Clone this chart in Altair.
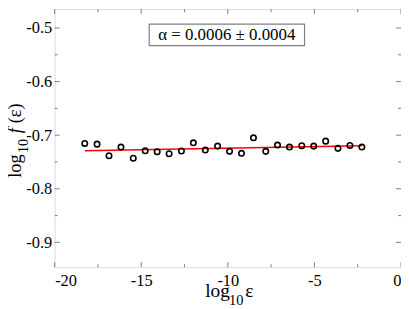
import altair as alt
import pandas as pd

# ---- data ----
log_eps = [-18.26, -17.55, -16.86, -16.17, -15.46, -14.77, -14.08, -13.39,
           -12.68, -11.99, -11.30, -10.59, -9.90, -9.21, -8.52, -7.81,
           -7.13, -6.44, -5.73, -5.04, -4.35, -3.64, -2.95, -2.26]
log_f = [-0.7154, -0.7167, -0.7383, -0.7222, -0.7431, -0.7290, -0.7309, -0.7346,
         -0.7296, -0.7143, -0.7278, -0.7204, -0.7302, -0.7339, -0.7050, -0.7302,
         -0.7185, -0.7222, -0.7198, -0.7204, -0.7111, -0.7246, -0.7191, -0.7222]
fit_x = [-18.26, -2.26]
fit_y = [-0.7290, -0.7196]
annotation = "α = 0.0006 ± 0.0004"

x_major = [-20, -15, -10, -5, 0]
x_minor = [-17.5, -12.5, -7.5, -2.5]
y_major = [-0.9, -0.8, -0.7, -0.6, -0.5]
y_minor = [-0.85, -0.75, -0.65, -0.55]

X_DOMAIN = [-20, 0]
Y_DOMAIN = [-0.9463, -0.4648]
W, H = 349, 260
FONT = "Liberation Serif, Times New Roman, serif"
GREY = "#808080"

xs = alt.Scale(domain=X_DOMAIN, nice=False, zero=False)
ys = alt.Scale(domain=Y_DOMAIN, nice=False, zero=False)

pts = pd.DataFrame({"x": log_eps, "y": log_f})
fit = pd.DataFrame({"x": fit_x, "y": fit_y})

base_axis_x = alt.Axis(values=x_major, labelExpr="'' + datum.value", ticks=False,
                       grid=False, domain=False, labelFont=FONT, labelFontSize=16.5,
                       labelColor="black", labelPadding=5, title=None)
base_axis_y = alt.Axis(values=y_major, labelExpr="'' + datum.value", ticks=False,
                       grid=False, domain=False, labelFont=FONT, labelFontSize=16.5,
                       labelColor="black", labelPadding=3, title=None)

points = alt.Chart(pts).mark_point(
    shape="circle", filled=False, color="black", size=30, strokeWidth=1.6, opacity=1
).encode(
    x=alt.X("x:Q", scale=xs, axis=base_axis_x),
    y=alt.Y("y:Q", scale=ys, axis=base_axis_y),
)

line = alt.Chart(fit).mark_line(color="#ff0000", strokeWidth=1.4).encode(
    x=alt.X("x:Q", scale=xs), y=alt.Y("y:Q", scale=ys)
)

# inward ticks on all four sides
def xticks(vals, length):
    df = pd.DataFrame({"v": vals})
    bottom = alt.Chart(df).mark_rule(color=GREY, strokeWidth=1).encode(
        x=alt.X("v:Q", scale=xs), y=alt.value(H - length), y2=alt.value(H))
    top = alt.Chart(df).mark_rule(color=GREY, strokeWidth=1).encode(
        x=alt.X("v:Q", scale=xs), y=alt.value(0), y2=alt.value(length))
    return [bottom, top]

def yticks(vals, length):
    df = pd.DataFrame({"v": vals})
    left = alt.Chart(df).mark_rule(color=GREY, strokeWidth=1).encode(
        y=alt.Y("v:Q", scale=ys), x=alt.value(0), x2=alt.value(length))
    right = alt.Chart(df).mark_rule(color=GREY, strokeWidth=1).encode(
        y=alt.Y("v:Q", scale=ys), x=alt.value(W - length), x2=alt.value(W))
    return [left, right]

ticks = xticks(x_major, 5) + xticks(x_minor, 3) + yticks(y_major, 5) + yticks(y_minor, 3)

# annotation box
box_df = pd.DataFrame({"x": [-14.54], "x2": [-5.57], "y": [-0.4926], "y2": [-0.5328],
                       "tx": [-10.06], "ty": [-0.5130], "t": [annotation]})
box = alt.Chart(box_df).mark_rect(fill="white", stroke=GREY, strokeWidth=1.2).encode(
    x=alt.X("x:Q", scale=xs), x2="x2", y=alt.Y("y:Q", scale=ys), y2="y2")
box_text = alt.Chart(box_df).mark_text(font=FONT, fontSize=17, color="black",
                                       align="center", baseline="middle").encode(
    x=alt.X("tx:Q", scale=xs), y=alt.Y("ty:Q", scale=ys), text="t:N")

# axis titles built from pieces (subscripts)
def piece(text, x, y, size, angle=0, style="normal"):
    kw = dict(font=FONT, fontSize=size, color="black", align="left",
              baseline="alphabetic", text=text, fontStyle=style)
    if angle:
        kw["angle"] = angle
    return alt.Chart(pd.DataFrame({"a": [0]})).mark_text(**kw).encode(
        x=alt.value(x), y=alt.value(y))

OX, OY = 55, 8
titles = [
    piece("log", 206.7 - OX, 298 - OY, 19.5),
    piece("10", 230.7 - OX, 306 - OY, 14.5),
    piece("ε", 247 - OX, 298 - OY, 19.5),
    piece("log", 21 - OX, 178 - OY, 18.5, angle=270),
    piece("10", 28 - OX, 153 - OY, 14, angle=270),
    piece("f", 21 - OX, 133 - OY, 18.5, angle=270, style="italic"),
    piece("(ε)", 21 - OX, 123 - OY, 18.5, angle=270),
]

chart = alt.layer(
    line, points, *ticks, box, box_text, *titles
).properties(
    width=W, height=H,
    padding={"left": 47, "top": 0, "right": 0, "bottom": 41},
    autosize=alt.AutoSizeParams(type="none"),
).configure_view(
    stroke=GREY, strokeWidth=1.2
).configure(background="white")

chart.save("out.html", embed_options={"renderer": "svg", "actions": False})
